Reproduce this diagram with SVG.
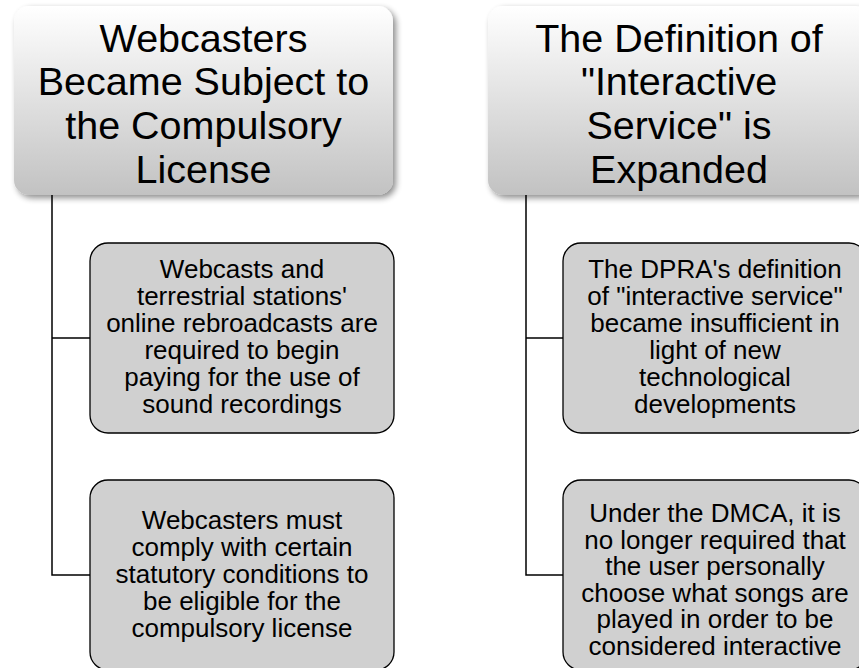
<svg xmlns="http://www.w3.org/2000/svg" width="859" height="668" viewBox="0 0 859 668">
<defs>
<linearGradient id="hg" x1="0" y1="0" x2="0" y2="1">
<stop offset="0" stop-color="#ffffff"/>
<stop offset="1" stop-color="#c2c2c2"/>
</linearGradient>
<filter id="sh" x="-10%" y="-10%" width="125%" height="130%">
<feGaussianBlur in="SourceAlpha" stdDeviation="3"/>
<feOffset dx="3" dy="3" result="b"/>
<feComponentTransfer><feFuncA type="linear" slope="0.45"/></feComponentTransfer>
<feMerge><feMergeNode/><feMergeNode in="SourceGraphic"/></feMerge>
</filter>
</defs>
<style>
.hdr{fill:url(#hg);filter:url(#sh)}
.child{fill:#d0d0d0;stroke:#000;stroke-width:1.3}
.ht{font-family:"Liberation Sans",Arial,sans-serif;font-size:39.5px;fill:#000;text-anchor:middle}
.ct{font-family:"Liberation Sans",Arial,sans-serif;font-size:26px;fill:#000;text-anchor:middle}
.conn{fill:none;stroke:#000;stroke-width:1.5}
</style>
<g id="connectors">
<path class="conn" d="M52,195 V575 H90 M52,338 H90"/>
<path class="conn" d="M526,195 V575 H563 M526,338 H563"/>
</g>
<g id="header-left">
<rect class="hdr" x="14" y="6" width="379" height="189" rx="15"/>
<text class="ht"><tspan x="203.5" y="51.7">Webcasters</tspan><tspan x="203.5" y="95.4">Became Subject to</tspan><tspan x="203.5" y="139.1">the Compulsory</tspan><tspan x="203.5" y="182.8">License</tspan></text>
</g>
<g id="header-right">
<rect class="hdr" x="488" y="6" width="382" height="189" rx="15"/>
<text class="ht"><tspan x="679" y="51.7">The Definition of</tspan><tspan x="679" y="95.4">"Interactive</tspan><tspan x="679" y="139.1">Service" is</tspan><tspan x="679" y="182.8">Expanded</tspan></text>
</g>
<g id="child-left-1">
<rect class="child" x="90" y="243" width="304" height="190" rx="18"/>
<text class="ct"><tspan x="242" y="278">Webcasts and</tspan><tspan x="242" y="305">terrestrial stations'</tspan><tspan x="242" y="332">online rebroadcasts are</tspan><tspan x="242" y="359">required to begin</tspan><tspan x="242" y="386">paying for the use of</tspan><tspan x="242" y="413">sound recordings</tspan></text>
</g>
<g id="child-left-2">
<rect class="child" x="90" y="480" width="304" height="190" rx="18"/>
<text class="ct"><tspan x="242" y="529">Webcasters must</tspan><tspan x="242" y="556">comply with certain</tspan><tspan x="242" y="583">statutory conditions to</tspan><tspan x="242" y="610">be eligible for the</tspan><tspan x="242" y="637">compulsory license</tspan></text>
</g>
<g id="child-right-1">
<rect class="child" x="563" y="243" width="304" height="190" rx="18"/>
<text class="ct"><tspan x="715" y="278">The DPRA's definition</tspan><tspan x="715" y="305">of "interactive service"</tspan><tspan x="715" y="332">became insufficient in</tspan><tspan x="715" y="359">light of new</tspan><tspan x="715" y="386">technological</tspan><tspan x="715" y="413">developments</tspan></text>
</g>
<g id="child-right-2">
<rect class="child" x="563" y="480" width="304" height="190" rx="18"/>
<text class="ct"><tspan x="715" y="522">Under the DMCA, it is</tspan><tspan x="715" y="548.5">no longer required that</tspan><tspan x="715" y="575">the user personally</tspan><tspan x="715" y="601.5">choose what songs are</tspan><tspan x="715" y="628">played in order to be</tspan><tspan x="715" y="654.5">considered interactive</tspan></text>
</g>
</svg>
